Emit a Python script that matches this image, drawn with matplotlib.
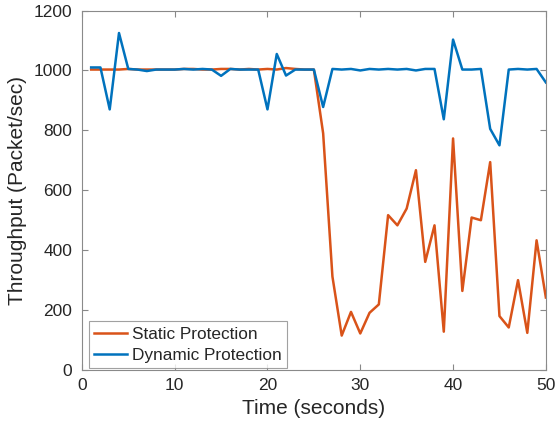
import matplotlib
matplotlib.use("Agg")
import matplotlib.pyplot as plt
import numpy as np

plt.rcParams['font.family'] = ['Liberation Sans', 'DejaVu Sans']

time = list(range(1, 51))
static = [1003, 1003, 1003, 1003, 1005, 1003, 1003, 1003, 1003, 1003,
          1005, 1005, 1003, 1003, 1005, 1005, 1003, 1005, 1003, 1005,
          1003, 1008, 1005, 1003, 1003, 790, 312, 115, 194, 122,
          191, 219, 517, 483, 539, 667, 361, 483, 128, 773,
          264, 509, 500, 694, 180, 142, 300, 124, 433, 242]
dynamic = [1010, 1010, 870, 1125, 1005, 1003, 998, 1003, 1003, 1003,
           1005, 1003, 1005, 1003, 982, 1005, 1003, 1003, 1003, 870,
           1055, 983, 1003, 1003, 1003, 878, 1005, 1003, 1005, 1000,
           1005, 1003, 1005, 1003, 1005, 1000, 1005, 1005, 837, 1103,
           1003, 1003, 1005, 805, 750, 1003, 1005, 1003, 1005, 960]
series_labels = ["Static Protection", "Dynamic Protection"]
xticks = [0, 10, 20, 30, 40, 50]
yticks = [0, 200, 400, 600, 800, 1000, 1200]

txt = '#262626'
fig = plt.figure(figsize=(5.57, 4.30), dpi=100)
ax = fig.add_axes([0.147, 0.1395, 0.833, 0.836])
ax.plot(time, static, color='#D95319', lw=1.8, label=series_labels[0])
ax.plot(time, dynamic, color='#0072BD', lw=1.8, label=series_labels[1])
ax.set_xlim(0, 50)
ax.set_ylim(0, 1200)
ax.set_xticks(xticks)
ax.set_yticks(yticks)
ax.tick_params(direction='in', top=True, right=True, labelsize=12.5,
               colors='#888888', labelcolor=txt, length=4, width=0.8)
ax.tick_params(axis='x', pad=6)
ax.tick_params(axis='y', pad=7)
for s in ax.spines.values():
    s.set_color('#8a8a8a')
    s.set_linewidth(0.8)
ax.set_xlabel('Time (seconds)', fontsize=15, color=txt, labelpad=4)
ax.set_ylabel('Throughput (Packet/sec)', fontsize=15, color=txt, labelpad=5)
leg = ax.legend(loc='lower left', bbox_to_anchor=(0.015, 0.006), fontsize=12.4,
                frameon=True, fancybox=False,
                edgecolor='#8a8a8a', handlelength=1.9, handletextpad=0.3,
                borderpad=0.3, labelspacing=0.35, borderaxespad=0.0)
leg.get_frame().set_linewidth(0.8)
for t in leg.get_texts():
    t.set_color(txt)
fig.savefig('out.png', dpi=100)
